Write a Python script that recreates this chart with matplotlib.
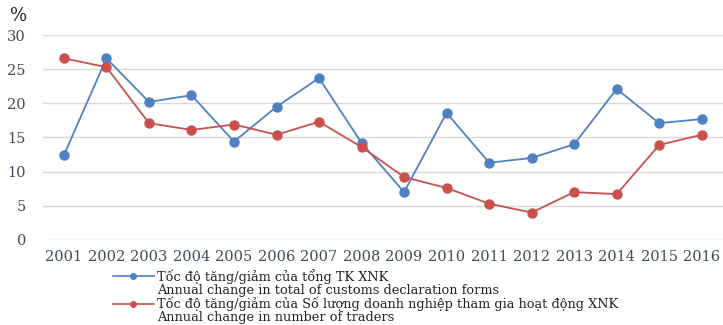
import matplotlib.pyplot as plt
from matplotlib.lines import Line2D

years = ["2001", "2002", "2003", "2004", "2005", "2006", "2007", "2008",
         "2009", "2010", "2011", "2012", "2013", "2014", "2015", "2016"]
declarations = [12.4, 26.6, 20.2, 21.2, 14.4, 19.5, 23.7, 14.2,
                7.0, 18.6, 11.3, 12.0, 14.0, 22.1, 17.1, 17.7]
traders = [26.6, 25.3, 17.1, 16.1, 16.9, 15.4, 17.3, 13.6,
           9.2, 7.6, 5.3, 4.0, 7.0, 6.7, 13.9, 15.4]
yticks = [0, 5, 10, 15, 20, 25, 30]

labels = [
    "Tốc độ tăng/giảm của tổng TK XNK",
    "Annual change in total of customs declaration forms",
    "Tốc độ tăng/giảm của Số lượng doanh nghiệp tham gia hoạt động XNK",
    "Annual change in number of traders",
]

BLUE = "#4f81c2"
RED = "#c9504d"
TICK = "#3f4a5a"

fig = plt.figure(figsize=(7.23, 3.25), dpi=100)
ax = fig.add_axes([0.059, 0.262, 0.941, 0.630])

x = range(len(years))
ax.plot(x, declarations, color=BLUE, lw=1.3, marker="o", ms=6.5, zorder=3)
ax.plot(x, traders, color=RED, lw=1.3, marker="o", ms=6.5, zorder=3)

ax.set_xlim(-0.5, len(years) - 0.5)
ax.set_ylim(0, 30)
ax.set_xticks(list(x))
ax.set_xticklabels(years)
ax.set_yticks(yticks)
ax.grid(axis="y", color="#d9d9d9", lw=1.0)
ax.set_axisbelow(True)
for s in ax.spines.values():
    s.set_visible(False)
ax.tick_params(length=0, colors=TICK, labelsize=10.5, pad=7)
ax.tick_params(axis="y", pad=12)
for t in ax.get_xticklabels() + ax.get_yticklabels():
    t.set_family("DejaVu Serif")

fig.text(0.026, 0.952, "%", family="DejaVu Serif", fontsize=13,
         color="#222222", ha="center", va="center")

# legend: each series gets a Vietnamese line with its marker, English line below
blank = Line2D([], [], color="none")
handles = [
    Line2D([], [], color=BLUE, lw=1.2, marker="o", ms=4),
    blank,
    Line2D([], [], color=RED, lw=1.2, marker="o", ms=4),
    blank,
]
fig.legend(handles, labels, loc="upper left", bbox_to_anchor=(0.156, 0.172),
           frameon=False, handlelength=3.2, handletextpad=0.23,
           labelspacing=0.0, borderaxespad=0, borderpad=0,
           prop={"family": ["DejaVu Serif"], "size": 9.3},
           labelcolor="#222222")

fig.savefig("out.png", dpi=100)
